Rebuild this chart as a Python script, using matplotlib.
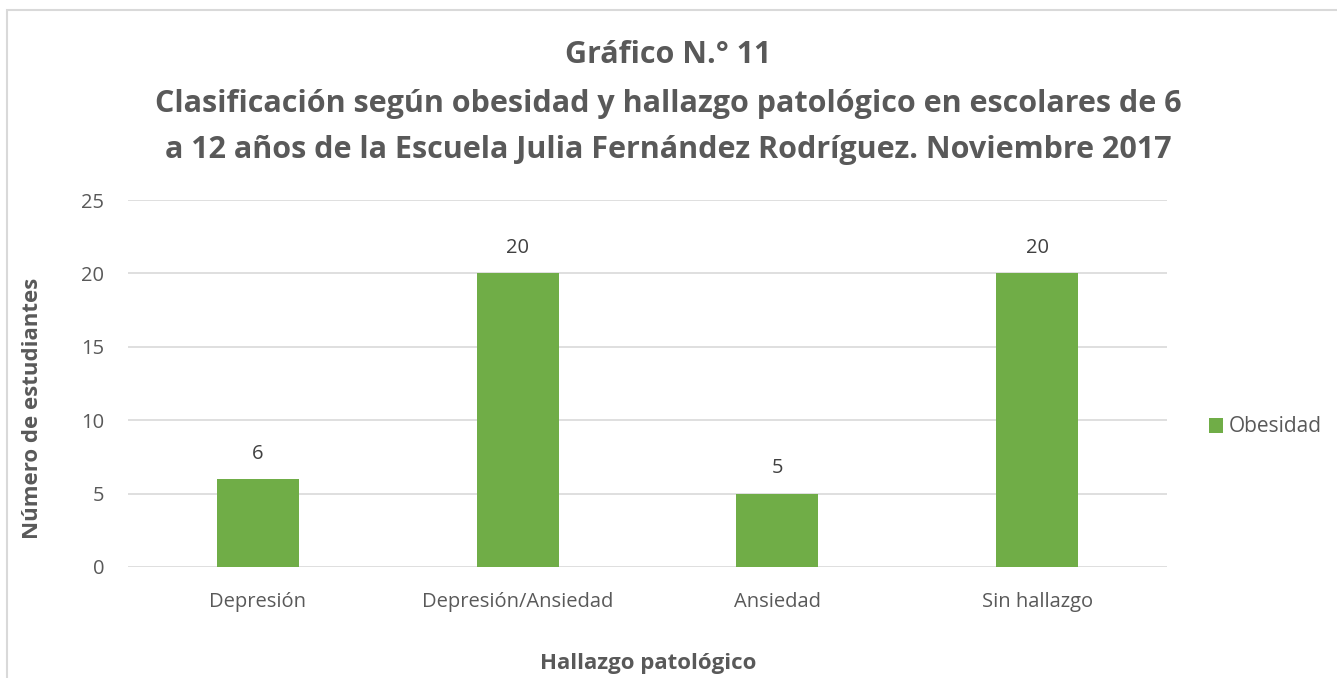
import matplotlib
matplotlib.use("Agg")
import matplotlib.pyplot as plt
from matplotlib.patches import Rectangle

categories = ["Depresión", "Depresión/Ansiedad", "Ansiedad", "Sin hallazgo"]
obesidad = [6, 20, 5, 20]
yticks = [0, 5, 10, 15, 20, 25]
title_lines = ["Gráfico N.° 11",
               "Clasificación según obesidad y hallazgo patológico en escolares de 6",
               "a 12 años de la Escuela Julia Fernández Rodríguez. Noviembre 2017"]

plt.rcParams['font.family'] = ['Open Sans', 'DejaVu Sans']
W, H = 1337, 678
fig = plt.figure(figsize=(W/100, H/100), dpi=100)
fig.patch.set_facecolor('white')

# outer border (right and bottom edges lie outside the picture)
fig.patches.append(Rectangle((7/W, -0.1), 1.5, 1.1 - 10/H, transform=fig.transFigure,
                             fill=False, edgecolor='#D9D9D9', linewidth=1.5))

ax = fig.add_axes([128/W, 1 - 567/H, (1167-128)/W, (567-200)/H])
x = range(len(categories))
bars = ax.bar(x, obesidad, width=0.316, color='#70AD47', label='Obesidad', zorder=3)
ax.set_xlim(-0.5, len(categories) - 0.5)
ax.set_ylim(0, 25)
ax.set_yticks(yticks)
ax.grid(axis='y', color='#D9D9D9', linewidth=1.2, zorder=0)
for s in ax.spines.values():
    s.set_visible(False)
ax.tick_params(length=0, colors='#595959', labelsize=14.5)
ax.tick_params(axis='y', pad=17)
ax.tick_params(axis='x', pad=18)
ax.set_xticks(list(x))
ax.set_xticklabels(categories)
for b, v in zip(bars, obesidad):
    ax.annotate(str(v), (b.get_x() + b.get_width()/2, v), xytext=(0, 11),
                textcoords='offset points', ha='center', va='bottom',
                fontsize=14.5, color='#404040')

# titles
ys = [55, 104, 150]
for t, yy in zip(title_lines, ys):
    fig.text(668/W, 1 - yy/H, t, ha='center', va='center', fontsize=22,
             fontweight='bold', color='#595959')

fig.text(33/W, 1 - 408/H, "Número de estudiantes", rotation=90, ha='center', va='center',
         fontsize=16, fontweight='bold', color='#595959')
fig.text(648/W, 1 - 663/H, "Hallazgo patológico", ha='center', va='center',
         fontsize=16, fontweight='bold', color='#595959')

leg = fig.legend(handles=[bars], labels=['Obesidad'], loc='center left',
                 bbox_to_anchor=(1190/W, 1 - 427/H), frameon=False, fontsize=15,
                 handlelength=0.7, handleheight=0.7, handletextpad=0.25)
for t in leg.get_texts():
    t.set_color('#595959')

fig.savefig('out.png', dpi=100)
